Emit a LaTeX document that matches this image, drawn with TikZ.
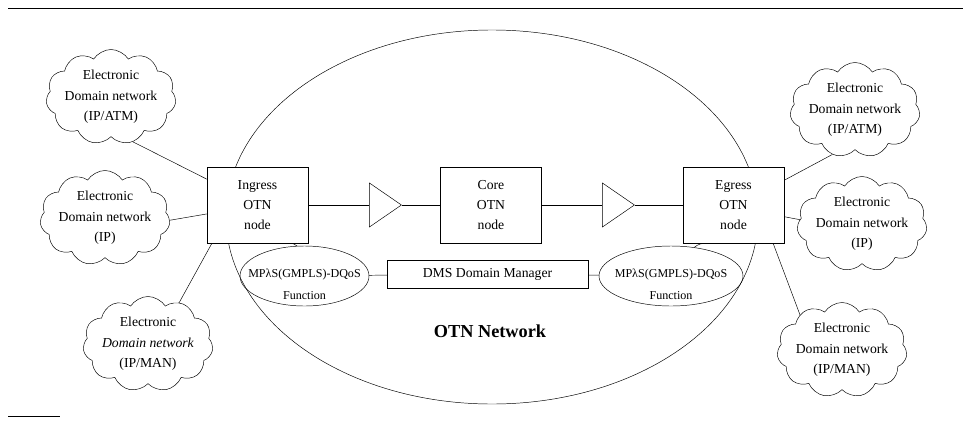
\documentclass[tikz,border=0pt]{standalone}
\usepackage{fontspec}
\setmainfont{Liberation Serif}
\usetikzlibrary{shapes.geometric,shapes.symbols}

\begin{document}
\begin{tikzpicture}[x=0.03cm,y=-0.03cm,
  otnbox/.style={draw,fill=white,minimum width=3.03cm,minimum height=2.28cm,align=center,font=\fontsize{11.7}{17}\selectfont},
  amp/.style={draw,isosceles triangle,isosceles triangle stretches,minimum width=1.32cm,minimum height=0.96cm,inner sep=0pt},
  edn/.style={draw,cloud,cloud puffs=11,cloud puff arc=115,cloud ignores aspect,minimum width=3.9cm,minimum height=2.85cm,inner sep=0pt},
  fn/.style={draw,ellipse,minimum height=1.8cm,inner sep=0pt},
  txt/.style={align=center,font=\fontsize{11.7}{17.5}\selectfont},
  fntxt/.style={align=center,yshift=-0.25cm,font=\fontsize{10.3}{18}\selectfont}]
\def\otnnet{(492,217) ellipse [x radius=7.98cm, y radius=5.61cm]}
\useasboundingbox (0,0) rectangle (963,421);
\draw (8,8) -- (963,8);
\draw (8,416) -- (60,416);
\draw \otnnet;

% optical path
\node[otnbox] (ing) at (257.5,205) {Ingress\\OTN\\node};
\node[amp] (a1) at (381,205) {};
\node[otnbox] (core) at (491,205) {Core\\OTN\\node};
\node[amp] (a2) at (614,205) {};
\node[otnbox] (eg) at (733.5,205) {Egress\\OTN\\node};
\draw (ing) -- (a1) -- (core) -- (a2) -- (eg);

% control plane
\node[fn,minimum width=3.87cm,label={[fntxt]center:MPλS(GMPLS)-DQoS\\Function}] (mpl) at (304.5,276) {};
\node[draw,minimum width=6.03cm,minimum height=0.84cm,txt] (dms) at (487.5,274) {DMS Domain Manager};
\node[fn,minimum width=4.32cm,label={[fntxt]center:MPλS(GMPLS)-DQoS\\Function}] (mpr) at (671,276) {};
\draw (mpl) -- (dms) -- (mpr);
\draw (ing.-50) to[bend left=20] (mpl.104);
\draw (eg.-125) to[bend right=20] (mpr.51);
\node[font=\bfseries\fontsize{15.6}{18}\selectfont] (otn) at (490,331) {OTN Network};

% electronic domains
\node[edn,label={[txt]center:Electronic\\Domain network\\(IP/ATM)}] (cl1) at (111,97) {};
\node[edn,label={[txt]center:Electronic\\Domain network\\(IP)}] (cl2) at (105,218) {};
\node[edn,label={[txt]center:Electronic\\\textit{Domain network}\\(IP/MAN)}] (cl3) at (148,344) {};
\node[edn,label={[txt]center:Electronic\\Domain network\\(IP/ATM)}] (cr1) at (855,110) {};
\node[edn,label={[txt]center:Electronic\\Domain network\\(IP)}] (cr2) at (862,224) {};
\node[edn,label={[txt]center:Electronic\\Domain network\\(IP/MAN)}] (cr3) at (842,350) {};
\draw (cl1.-64) -- (ing.153);
\draw (cl2.-2) -- (ing.190);
\draw (cl3.53) -- (ing.220);
\draw (cr1.-117) -- (eg.26);
\draw (cr2.176) -- (eg.-13);
\draw (cr3.140) -- (eg.-44);
\end{tikzpicture}
\end{document}
